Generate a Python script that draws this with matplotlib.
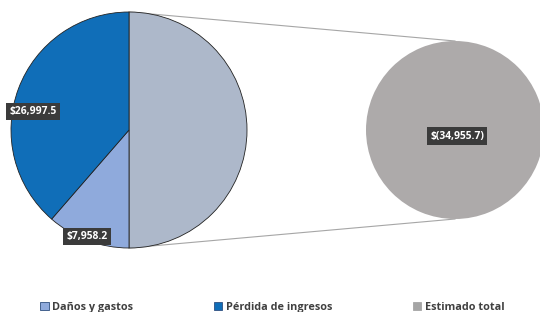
import numpy as np
import matplotlib.pyplot as plt
from matplotlib.patches import Patch

plt.rcParams['font.family'] = ['Open Sans', 'DejaVu Sans']

# left pie: aggregate slice first, then its breakdown (Excel order, clockwise from top)
left_names = ['Estimado total', 'Daños y gastos', 'Pérdida de ingresos']
left_values = [34955.7, 7958.2, 26997.5]
left_colors = ['#ADB8CA', '#8FAADC', '#106EB8']
left_labels = ['', '$7,958.2', '$26,997.5']

# right pie: the split-out slice
right_values = [34955.7]
right_colors = ['#ADAAAA']
right_labels = ['$(34,955.7)']

legend_names = ['Daños y gastos', 'Pérdida de ingresos', 'Estimado total']
legend_colors = ['#8FAADC', '#106EB8', '#A5A5A5']

W, H = 540, 312
fig = plt.figure(figsize=(W / 100, H / 100), dpi=100)
ax = fig.add_axes([0, 0, 1, 1])

lc, lr = (129, 182), 118
rc, rr = (455, 182), 89

# connector lines from the top/bottom of the left pie to the right pie
ax.plot([lc[0], rc[0]], [lc[1] + lr, rc[1] + rr], color='#A6A6A6', lw=0.8, zorder=1)
ax.plot([lc[0], rc[0]], [lc[1] - lr, rc[1] - rr], color='#A6A6A6', lw=0.8, zorder=1)

wedges, _ = ax.pie(left_values, colors=left_colors, startangle=90, counterclock=False,
                   center=lc, radius=lr, frame=True,
                   wedgeprops=dict(edgecolor='#222222', linewidth=0.6))
ax.pie(right_values, colors=right_colors, startangle=90, counterclock=False,
       center=rc, radius=rr, frame=True, wedgeprops=dict(linewidth=0))

ax.set_xlim(0, W)
ax.set_ylim(0, H)
ax.set_aspect('equal')
ax.axis('off')

box = dict(boxstyle='square,pad=0.3', facecolor='#3B3B3B', edgecolor='none')
txt = dict(color='white', fontsize=7.4, fontweight='bold', ha='center', va='center', bbox=box, zorder=5)

# label positions as (fraction of radius, angle in degrees)
left_pos = [None, (0.97, -111.5), (0.83, 169)]
for lab, pos in zip(left_labels, left_pos):
    if not lab:
        continue
    f, a = pos
    ax.text(lc[0] + f * lr * np.cos(np.radians(a)), lc[1] + f * lr * np.sin(np.radians(a)), lab, **txt)

ax.text(rc[0] + 2, rc[1] - 6, right_labels[0], **txt)

handles = [Patch(facecolor=c, edgecolor=c if i == 2 else '#2F4F7F', linewidth=0.6)
           for i, c in enumerate(legend_colors)]
fig.legend(handles, legend_names, loc='center left', bbox_to_anchor=(0.062, 0.016), ncol=3,
           frameon=False, borderpad=0.1, handlelength=0.8, handleheight=0.8, handletextpad=0.3,
           columnspacing=7.45, prop=dict(size=7.8, weight='bold'), labelcolor='#404040')

fig.savefig('out.png', dpi=100)
